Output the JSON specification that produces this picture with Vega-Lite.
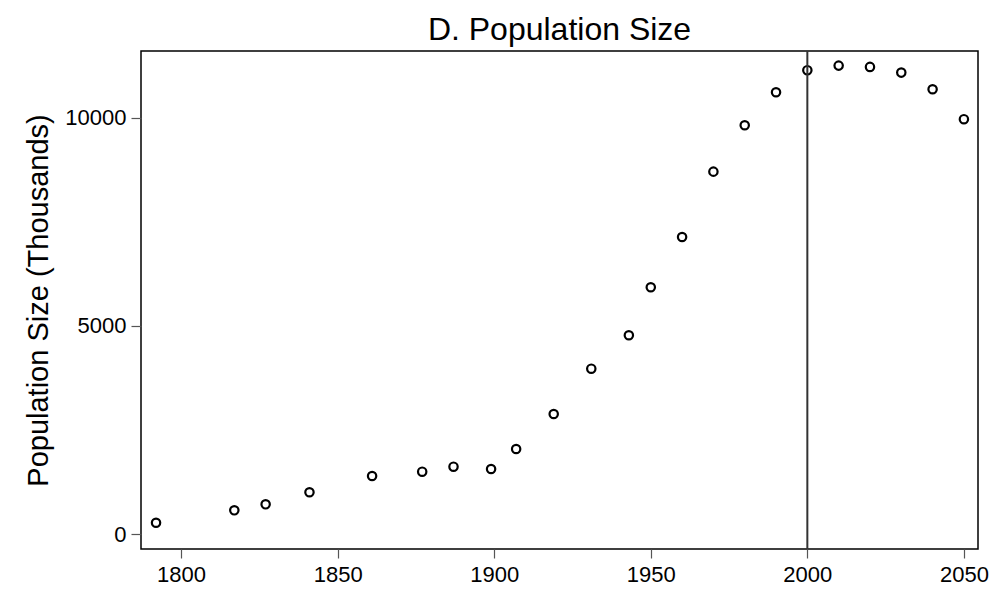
{
  "$schema": "https://vega.github.io/schema/vega-lite/v6.json",
  "autosize": {"type": "none"},
  "padding": {"left": 141, "top": 51, "right": 22, "bottom": 42},
  "width": 837,
  "height": 498,
  "background": "white",
  "config": {
    "font": "Liberation Sans",
    "view": {"stroke": "black", "strokeWidth": 1.5},
    "axis": {"grid": false, "domain": false, "tickColor": "#555", "tickWidth": 1.2, "labelColor": "black", "labelFont": "Liberation Sans", "titleFont": "Liberation Sans", "titleColor": "black", "titleFontWeight": "normal"}
  },
  "title": {"text": "D. Population Size", "fontSize": 32, "fontWeight": "normal", "font": "Liberation Sans", "color": "black", "baseline": "bottom", "offset": 7, "dy": 36, "anchor": "middle"},
  "data": {"values": [
    {"year": 1792, "pop": 271},
    {"year": 1817, "pop": 569},
    {"year": 1827, "pop": 713},
    {"year": 1841, "pop": 1002},
    {"year": 1861, "pop": 1393},
    {"year": 1877, "pop": 1497},
    {"year": 1887, "pop": 1617},
    {"year": 1899, "pop": 1561},
    {"year": 1907, "pop": 2042},
    {"year": 1919, "pop": 2883},
    {"year": 1931, "pop": 3971},
    {"year": 1943, "pop": 4773},
    {"year": 1950, "pop": 5926},
    {"year": 1960, "pop": 7134},
    {"year": 1970, "pop": 8703},
    {"year": 1980, "pop": 9817},
    {"year": 1990, "pop": 10610},
    {"year": 2000, "pop": 11139},
    {"year": 2010, "pop": 11249},
    {"year": 2020, "pop": 11218},
    {"year": 2030, "pop": 11081},
    {"year": 2040, "pop": 10682},
    {"year": 2050, "pop": 9962}
  ]},
  "layer": [
    {
      "mark": {"type": "point", "shape": "circle", "filled": false, "stroke": "black", "strokeWidth": 2.2, "size": 70, "opacity": 1},
      "encoding": {
        "x": {"field": "year", "type": "quantitative", "scale": {"domain": [1787.2, 2054.5], "nice": false, "zero": false},
          "axis": {"values": [1800, 1850, 1900, 1950, 2000, 2050], "format": "d", "title": null, "labelFontSize": 22, "tickSize": 9, "labelPadding": 6}},
        "y": {"field": "pop", "type": "quantitative", "scale": {"domain": [-360, 11600], "nice": false, "zero": false},
          "axis": {"values": [0, 5000, 10000], "format": "d", "title": "Population Size (Thousands)", "titleFontSize": 29, "titlePadding": 11, "labelFontSize": 22, "tickSize": 10, "labelPadding": 5}}
      }
    },
    {
      "data": {"values": [{"year": 2000}]},
      "mark": {"type": "rule", "color": "#333", "strokeWidth": 2},
      "encoding": {"x": {"field": "year", "type": "quantitative"}}
    }
  ]
}
